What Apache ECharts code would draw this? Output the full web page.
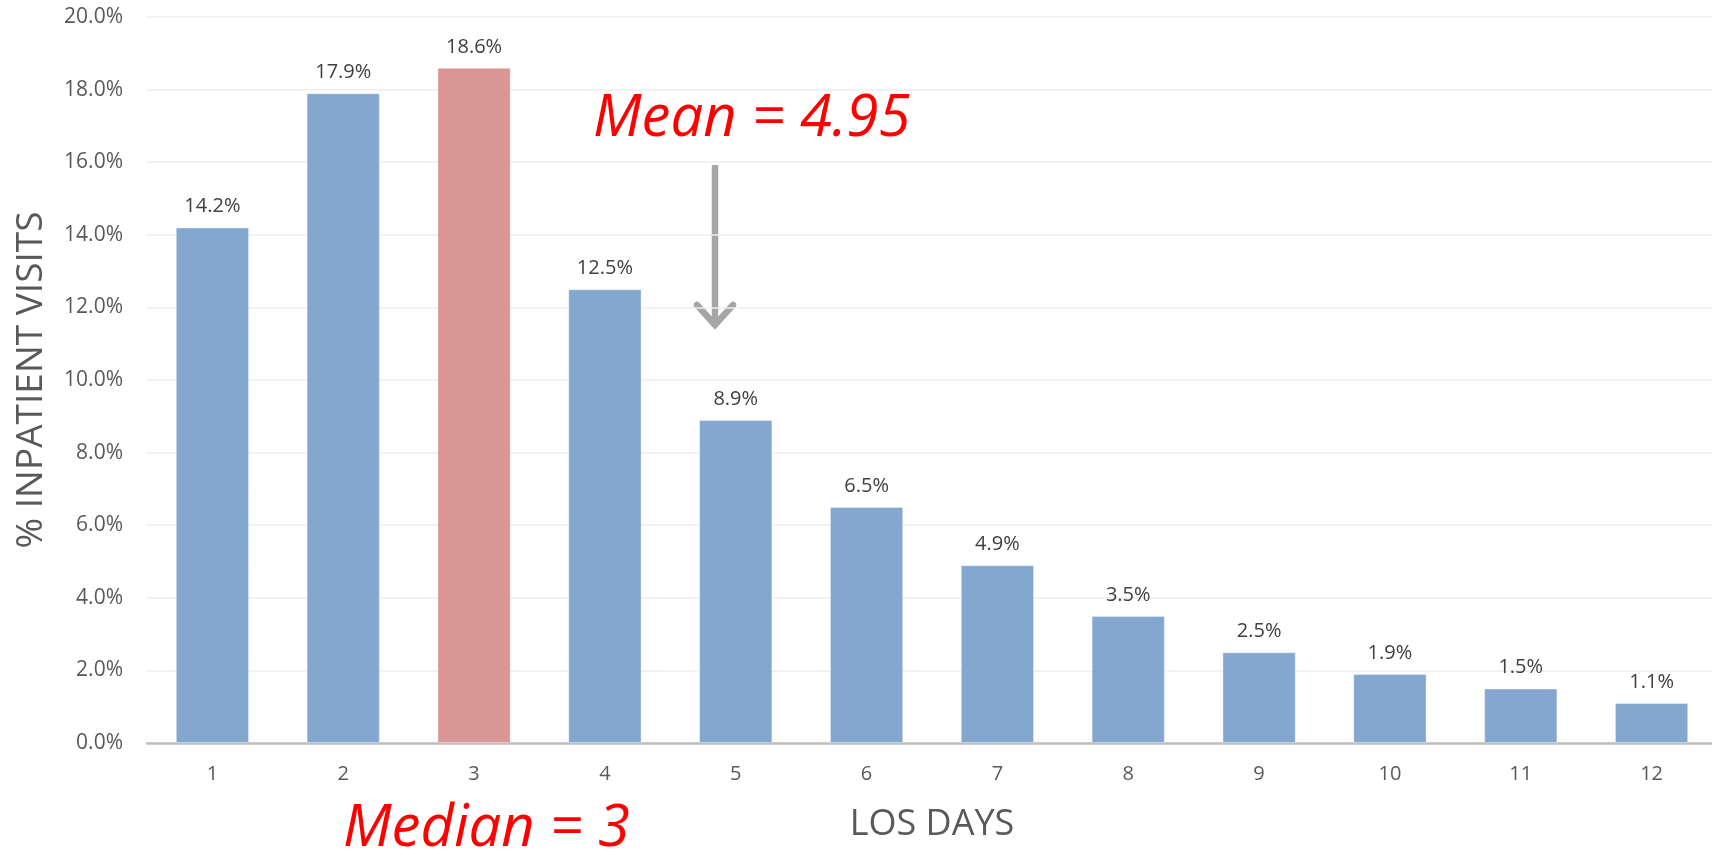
<!DOCTYPE html>
<html>
<head>
<meta charset="utf-8">
<title>LOS distribution</title>
<script src="https://cdn.jsdelivr.net/npm/echarts@6/dist/echarts.min.js"></script>
<style>
  html, body { margin: 0; padding: 0; background: #ffffff; }
  #chart { width: 1712px; height: 850px; }
</style>
</head>
<body>
<div id="chart"></div>
<script>
// Length-of-stay distribution for inpatient visits
const losDays = ['1', '2', '3', '4', '5', '6', '7', '8', '9', '10', '11', '12'];
const visitShare = [14.2, 17.9, 18.6, 12.5, 8.9, 6.5, 4.9, 3.5, 2.5, 1.9, 1.5, 1.1];
const medianDay = '3';
const yTicks = [0, 2, 4, 6, 8, 10, 12, 14, 16, 18, 20];

const FONT = '"Open Sans", "Noto Sans", sans-serif';
const BLUE = '#84a7cf';
const RED = '#d99694';

const chart = echarts.init(document.getElementById('chart'), null, { renderer: 'canvas' });

const barData = visitShare.map((v, i) => ({
  value: v,
  itemStyle: { color: losDays[i] === medianDay ? RED : BLUE }
}));

chart.setOption({
  backgroundColor: '#ffffff',
  animation: false,
  grid: { left: 147, top: 17, width: 1570, bottom: 107, containLabel: false, outerBoundsMode: 'none' },
  xAxis: {
    type: 'category',
    data: losDays,
    name: 'LOS DAYS',
    nameLocation: 'middle',
    nameGap: 64,
    nameTextStyle: { fontFamily: FONT, fontSize: 36, color: '#595959' },
    axisLine: { show: true, lineStyle: { color: '#bfbfbf', width: 2.5 } },
    axisTick: { show: false },
    axisLabel: { fontFamily: FONT, fontSize: 20, color: '#595959', margin: 21 }
  },
  yAxis: {
    type: 'value',
    min: yTicks[0],
    max: yTicks[yTicks.length - 1],
    interval: yTicks[1] - yTicks[0],
    name: '% INPATIENT VISITS',
    nameLocation: 'middle',
    nameGap: 97,
    nameTextStyle: { fontFamily: FONT, fontSize: 37, color: '#595959' },
    axisLine: { show: false },
    axisTick: { show: false },
    axisLabel: {
      fontFamily: FONT, fontSize: 21, color: '#595959', margin: 24,
      formatter: v => v.toFixed(1) + '%'
    },
    splitLine: { lineStyle: { color: '#eeeeee', width: 1.5 } }
  },
  series: [{
    type: 'bar',
    data: barData,
    barCategoryGap: '44%',
    itemStyle: { borderColor: 'rgba(255,255,255,0.35)', borderWidth: 1 },
    label: {
      show: true,
      position: 'top',
      distance: 11,
      fontFamily: FONT,
      fontSize: 20,
      color: '#404040',
      formatter: p => p.value.toFixed(1) + '%'
    }
  }],
  graphic: [
    {
      type: 'text',
      z: 10,
      left: 593, top: 90,
      style: {
        text: 'Mean = 4.95',
        fontFamily: FONT, fontStyle: 'italic', fontSize: 58,
        fill: '#ff0000'
      }
    },
    {
      type: 'text',
      z: 10,
      left: 343, top: 800,
      style: {
        text: 'Median = 3',
        fontFamily: FONT, fontStyle: 'italic', fontSize: 58,
        fill: '#ff0000'
      }
    },
    {
      type: 'line',
      z: -1,
      shape: { x1: 715, y1: 165, x2: 715, y2: 324 },
      style: { stroke: '#a6a6a6', lineWidth: 6.5 }
    },
    {
      type: 'polyline',
      z: -1,
      shape: { points: [[697, 305], [715, 325], [733, 305]] },
      style: { stroke: '#a6a6a6', lineWidth: 6.5, lineCap: 'round', lineJoin: 'miter', fill: null }
    }
  ]
});
</script>
</body>
</html>
